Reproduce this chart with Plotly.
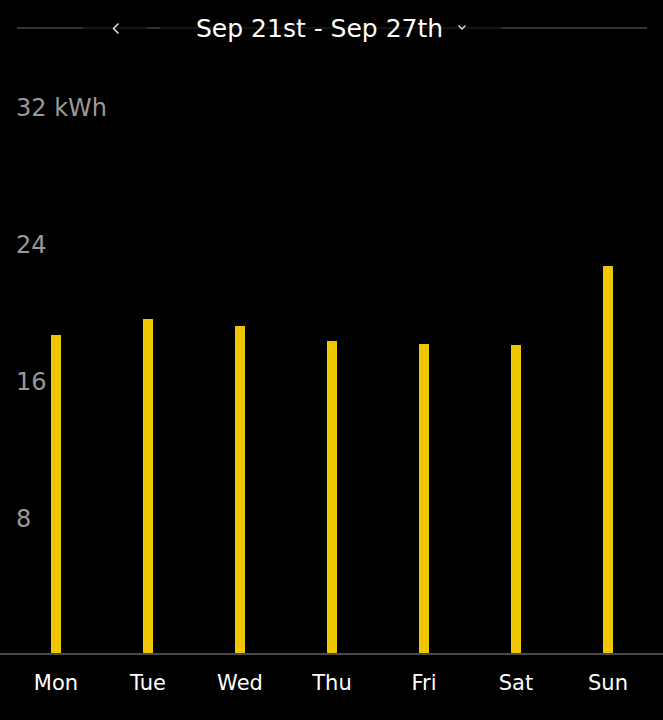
import plotly.graph_objects as go

days = ["Mon", "Tue", "Wed", "Thu", "Fri", "Sat", "Sun"]
energy_kwh = [18.6, 19.5, 19.1, 18.25, 18.05, 18.0, 22.6]
tick_vals = [8, 16, 24, 32]
tick_text = ["8", "16", "24", "32 kWh"]
title_text = "Sep 21st - Sep 27th"

W, H = 663, 720
MT, MB = 71, 67
PH = H - MT - MB

def px(x):
    return x / W

def py(y):
    return (H - MB - y) / PH

FONT = "DejaVu Sans"

fig = go.Figure()
fig.add_trace(go.Bar(
    x=list(range(len(days))), y=energy_kwh,
    width=0.105,
    marker=dict(color="#EFC700", line=dict(width=0)),
    hoverinfo="skip",
))

shapes = []
# header lines
shapes.append(dict(type="line", xref="paper", yref="paper", x0=px(17), x1=px(647),
                   y0=py(28), y1=py(28), line=dict(color="#1c1c1c", width=1.5)))
for a, b in [(17, 83), (147, 160), (502, 647)]:
    shapes.append(dict(type="line", xref="paper", yref="paper", x0=px(a), x1=px(b),
                       y0=py(28), y1=py(28), line=dict(color="#3e3e3e", width=1.5)))
# left chevron
shapes.append(dict(type="path", xref="paper", yref="paper",
                   path=f"M {px(118.5)} {py(23.5)} L {px(113.5)} {py(28.5)} L {px(118.5)} {py(33.5)}",
                   line=dict(color="#e0e0e0", width=1.5)))
# down chevron
shapes.append(dict(type="path", xref="paper", yref="paper",
                   path=f"M {px(458.5)} {py(25.5)} L {px(462)} {py(29)} L {px(465.5)} {py(25.5)}",
                   line=dict(color="#e0e0e0", width=1.3)))

annotations = [dict(text=title_text, xref="paper", yref="paper", x=px(319.5), y=py(28),
                    xanchor="center", yanchor="middle", showarrow=False,
                    font=dict(family=FONT, size=25, color="#ffffff"))]
for v, t in zip(tick_vals, tick_text):
    annotations.append(dict(text=t, xref="paper", yref="y", x=px(14), y=v, yshift=-3,
                            xanchor="left", yanchor="middle", showarrow=False,
                            font=dict(family=FONT, size=24, color="#999999")))

fig.update_layout(
    width=W, height=H,
    margin=dict(l=0, r=0, t=MT, b=MB, pad=0),
    paper_bgcolor="#000000", plot_bgcolor="#000000",
    showlegend=False,
    font=dict(family=FONT, color="#ffffff"),
    shapes=shapes,
    annotations=annotations,
    xaxis=dict(
        range=[-0.6087, 6.598], tickmode="array", tickvals=list(range(len(days))),
        ticktext=days, showgrid=False, zeroline=False,
        showline=True, linecolor="#4a4a4a", linewidth=1.5,
        ticks="", ticklabelstandoff=10,
        tickfont=dict(family=FONT, size=21, color="#ffffff"),
        fixedrange=True,
    ),
    yaxis=dict(
        range=[0, 34], showticklabels=False,
        showgrid=False, zeroline=False, showline=False, ticks="",
        fixedrange=True,
    ),
    bargap=0,
)

fig.write_html("out.html", config={"displayModeBar": False},
               post_script="document.body.style.margin='0';document.body.style.overflow='hidden';")
